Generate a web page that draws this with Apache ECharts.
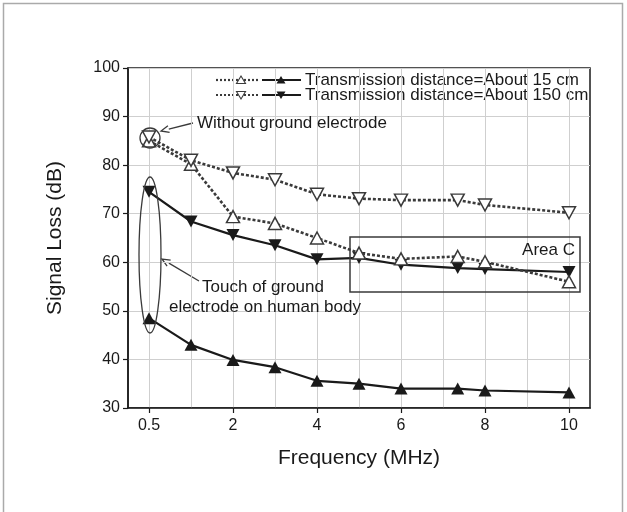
<!DOCTYPE html>
<html>
<head>
<meta charset="utf-8">
<script src="https://cdn.jsdelivr.net/npm/echarts@6/dist/echarts.min.js"></script>
<style>
html,body{margin:0;padding:0;background:#fff;}
#chart{width:627px;height:512px;}
</style>
</head>
<body>
<div id="chart"></div>
<script>
// Frequencies (MHz)
var freqs = [0.5, 1, 2, 3, 4, 5, 6, 7.35, 8, 10];
// Signal loss (dB)
var near_noGround  = [85.0, 80.2, 69.4, 68.0, 65.0, 61.9, 60.7, 61.2, 60.1, 56.0]; // 15 cm, open up-triangle
var near_ground    = [48.5, 43.0, 39.9, 38.4, 35.6, 35.0, 34.0, 34.0, 33.6, 33.2]; // 15 cm, filled up-triangle
var far_noGround   = [85.8, 81.0, 78.4, 77.0, 74.0, 73.1, 72.8, 72.8, 71.8, 70.2]; // 150 cm, open down-triangle
var far_ground     = [74.5, 68.4, 65.6, 63.5, 60.6, 60.9, 59.5, 58.8, 58.6, 58.0]; // 150 cm, filled down-triangle
var xTickValues = [0, 2, 4, 6, 8, 10];
var xTickLabels = ['0.5', '2', '4', '6', '8', '10'];
var legendNames = ['Transmission distance=About 15 cm', 'Transmission distance=About 150 cm'];

// The original axis places 0.5 MHz at the origin tick
function axisPos(f) { return f === 0.5 ? 0 : f; }
function pts(arr) { return arr.map(function (v, i) { return [axisPos(freqs[i]), v]; }); }

var FONT = '"Liberation Sans", Arial, sans-serif';
var DARK = '#1a1a1a';
var GRAY = '#3a3a3a';

var chart = echarts.init(document.getElementById('chart'), null, {renderer: 'canvas'});

function openSeries(name, data, down) {
  return {
    name: name, type: 'line', xAxisIndex: 0, yAxisIndex: 0, data: pts(data),
    symbol: 'triangle', symbolSize: [13, 12], symbolRotate: down ? 180 : 0,
    lineStyle: {type: [3, 2], width: 2.6, color: GRAY},
    itemStyle: {color: '#fff', borderColor: GRAY, borderWidth: 1.5},
    z: 4, animation: false, clip: false
  };
}
function filledSeries(name, data, down) {
  return {
    name: name, type: 'line', xAxisIndex: 0, yAxisIndex: 0, data: pts(data),
    symbol: 'triangle', symbolSize: [13, 12], symbolRotate: down ? 180 : 0,
    lineStyle: {type: 'solid', width: 2.2, color: DARK},
    itemStyle: {color: DARK, borderColor: DARK, borderWidth: 0},
    z: 3, animation: false, clip: false
  };
}

function legendRow(y, down, text) {
  var rot = down ? Math.PI : 0;
  return [
    {type: 'line', shape: {x1: 216, y1: y, x2: 259, y2: y}, style: {stroke: GRAY, lineWidth: 2.2, lineDash: [2, 2]}},
    {type: 'polygon', x: 241, y: y, rotation: rot, shape: {points: [[0, -4], [4.5, 3.5], [-4.5, 3.5]]}, style: {fill: '#fff', stroke: GRAY, lineWidth: 1.1}},
    {type: 'line', shape: {x1: 262, y1: y, x2: 301, y2: y}, style: {stroke: DARK, lineWidth: 2}},
    {type: 'polygon', x: 281, y: y, rotation: rot, shape: {points: [[0, -4], [4.5, 3.5], [-4.5, 3.5]]}, style: {fill: DARK}},
    {type: 'text', x: 305, y: y, style: {text: text, font: '17px ' + FONT, fill: DARK, textVerticalAlign: 'middle', verticalAlign: 'middle'}}
  ];
}

function arrow(x1, y1, x2, y2) {
  var ang = Math.atan2(y2 - y1, x2 - x1);
  var L = 8, W = 3.5;
  var bx = x2 - L * Math.cos(ang), by = y2 - L * Math.sin(ang);
  var nx = -Math.sin(ang), ny = Math.cos(ang);
  return [
    {type: 'line', shape: {x1: x1, y1: y1, x2: bx, y2: by}, style: {stroke: GRAY, lineWidth: 1.3}},
    {type: 'polyline', shape: {points: [[bx + nx * W, by + ny * W], [x2, y2], [bx - nx * W, by - ny * W]]}, style: {stroke: GRAY, lineWidth: 1.3, fill: null}}
  ];
}

var graphics = [].concat(
  [{type: 'rect', shape: {x: 3.5, y: 3.5, width: 619, height: 520}, style: {fill: null, stroke: '#aaa', lineWidth: 1.5}, z: 0}],
  legendRow(80, false, legendNames[0]),
  legendRow(95, true, legendNames[1]),
  [
    {type: 'circle', shape: {cx: 150, cy: 138, r: 10}, style: {fill: null, stroke: GRAY, lineWidth: 1.3}, z: 10},
    {type: 'text', x: 197, y: 123, style: {text: 'Without ground electrode', font: '17px ' + FONT, fill: DARK, verticalAlign: 'middle', textVerticalAlign: 'middle'}, z: 10},
    {type: 'ellipse', shape: {cx: 150, cy: 255, rx: 11, ry: 78}, style: {fill: null, stroke: GRAY, lineWidth: 1.3}, z: 10},
    {type: 'text', x: 263, y: 287, style: {text: 'Touch of ground', font: '17px ' + FONT, fill: DARK, align: 'center', verticalAlign: 'middle', textAlign: 'center', textVerticalAlign: 'middle'}, z: 10},
    {type: 'text', x: 265, y: 307, style: {text: 'electrode on human body', font: '17px ' + FONT, fill: DARK, align: 'center', verticalAlign: 'middle', textAlign: 'center', textVerticalAlign: 'middle'}, z: 10},
    {type: 'rect', shape: {x: 350, y: 237, width: 230, height: 55}, style: {fill: null, stroke: GRAY, lineWidth: 1.5}, z: 10},
    {type: 'text', x: 575, y: 250, style: {text: 'Area C', font: '17px ' + FONT, fill: DARK, align: 'right', verticalAlign: 'middle', textAlign: 'right', textVerticalAlign: 'middle'}, z: 10}
  ],
  arrow(193, 123, 161, 131),
  arrow(199, 281, 162, 259)
);

var option = {
  backgroundColor: '#fff',
  animation: false,
  textStyle: {fontFamily: FONT},
  grid: [
    {left: 128, top: 68, width: 462, height: 340, show: true, borderColor: DARK, borderWidth: 1.5, backgroundColor: 'transparent', containLabel: false},
    {left: 149, top: 68, width: 420, height: 340, show: false, containLabel: false}
  ],
  xAxis: [
    {
      type: 'value', gridIndex: 0, min: -0.5, max: 10.5,
      name: 'Frequency (MHz)', nameLocation: 'middle', nameGap: 40,
      nameTextStyle: {fontSize: 21, color: DARK, fontFamily: FONT},
      axisLine: {show: true, onZero: false, lineStyle: {color: DARK, width: 1.5}},
      axisTick: {show: true, inside: false, length: 5, customValues: xTickValues, lineStyle: {color: DARK, width: 1.2}},
      axisLabel: {show: true, customValues: xTickValues, fontSize: 16, color: DARK, margin: 10, fontFamily: FONT,
        formatter: function (v) { var i = xTickValues.indexOf(v); return i >= 0 ? xTickLabels[i] : ''; }},
      splitLine: {show: false}
    },
    {
      type: 'value', gridIndex: 1, min: 0, max: 10, interval: 1,
      axisLine: {show: false}, axisTick: {show: false}, axisLabel: {show: false},
      splitLine: {show: true, lineStyle: {color: '#cfcfcf', width: 1}}
    }
  ],
  yAxis: [
    {
      type: 'value', gridIndex: 0, min: 30, max: 100, interval: 10,
      name: 'Signal Loss (dB)', nameLocation: 'middle', nameGap: 62, nameRotate: 90,
      nameTextStyle: {fontSize: 21, color: DARK, fontFamily: FONT},
      axisLine: {show: true, onZero: false, lineStyle: {color: DARK, width: 1.5}},
      axisTick: {show: true, inside: false, length: 5, lineStyle: {color: DARK, width: 1.2}},
      axisLabel: {fontSize: 16, color: DARK, margin: 8, fontFamily: FONT},
      splitLine: {show: true, lineStyle: {color: '#cfcfcf', width: 1}}
    },
    {
      type: 'value', gridIndex: 1, min: 30, max: 100, show: false,
      splitLine: {show: false}
    }
  ],
  series: [
    filledSeries('15 cm with ground', near_ground, false),
    filledSeries('150 cm with ground', far_ground, true),
    openSeries('15 cm without ground', near_noGround, false),
    openSeries('150 cm without ground', far_noGround, true)
  ],
  graphic: graphics
};
chart.setOption(option);
</script>
</body>
</html>
